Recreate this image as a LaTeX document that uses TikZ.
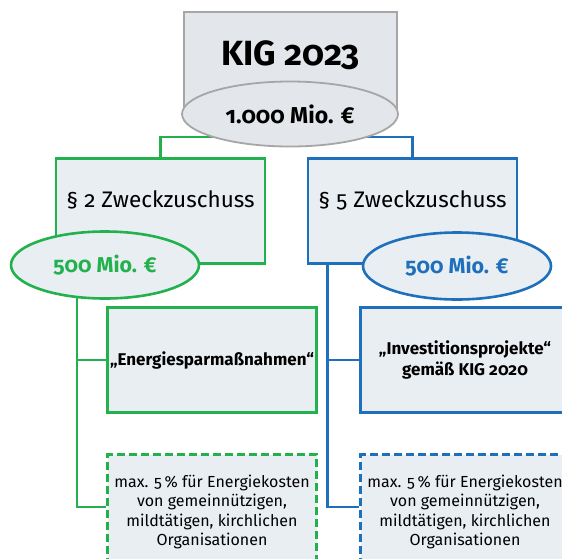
\documentclass[tikz,border=0pt]{standalone}
\usepackage{fontspec}
\setmainfont{Fira Sans}[Numbers=OldStyle]
\usetikzlibrary{shapes.geometric,backgrounds}
\definecolor{gruen}{RGB}{34,177,76}
\definecolor{blau}{RGB}{30,112,186}
\definecolor{hell}{RGB}{233,238,243}
\definecolor{grau}{RGB}{166,166,166}
\definecolor{grauhell}{RGB}{227,230,234}

\begin{document}
\begin{tikzpicture}[x=1pt,y=-1pt]
    \tikzstyle{lien}=[line width=2.8pt]
    \tikzstyle{titel}=[font=\fontsize{22.5}{26}\selectfont,text height=15pt,text depth=22pt]
    \tikzstyle{klein}=[font=\fontsize{16}{19.5}\selectfont]
\tikzset{kasten/.style={draw=#1,line width=2.8pt,fill=hell,minimum width=209pt,
minimum height=105pt,inner sep=0pt,align=center},
kasten/.default={gruen},
oval/.style={ellipse,draw=#1,line width=2.6pt,fill=hell,inner sep=0pt,text=#1,
minimum width=188pt,minimum height=67pt,font=\bfseries\fontsize{21.5}{24}\selectfont}}
\useasboundingbox (0,0) rectangle (562,558);
\clip (0,0) rectangle (562,558);

\node[draw=grau,line width=1.8pt,fill=grauhell,minimum width=213pt,minimum height=102pt,
text height=23pt,text depth=19pt,font=\bfseries\fontsize{35}{40}\selectfont] (kig) at (290.5,63){KIG 2023};
\node[ellipse,draw=grau,line width=1.8pt,fill=grauhell,minimum width=216pt,minimum height=65pt,
inner sep=0pt,font=\bfseries\fontsize{23}{26}\selectfont] (mio) at (290,114){1.000 Mio. €};

\node[kasten,titel] (zz2) at (160.5,211){§ 2 Zweckzuschuss};
\node[kasten=blau,titel] (zz5) at (412.5,211){§ 5 Zweckzuschuss};

\node[oval=gruen] (geld2) at (105,265){500 Mio. €};
\node[oval=blau] (geld5) at (457,266){500 Mio. €};

\node[kasten,font=\bfseries\fontsize{17}{20.5}\selectfont] (spar) at (212,360){„Energiesparmaßnahmen“};
\node[kasten=blau,font=\bfseries\fontsize{17}{20.5}\selectfont] (invest) at (465,360){„Investitionsprojekte“\\gemäß KIG 2020};

\node[kasten,dashed,dash pattern=on 8pt off 4pt,minimum height=115pt,klein] (max2) at (212,512)
{max. 5\,\% für Energiekosten\\von gemeinnützigen,\\mildtätigen, kirchlichen\\Organisationen};
\node[kasten=blau,dashed,dash pattern=on 8pt off 4pt,minimum height=115pt,klein] (max5) at (465,512)
{max. 5\,\% für Energiekosten\\von gemeinnützigen,\\mildtätigen, kirchlichen\\Organisationen};

\begin{pgfonlayer}{background}
\draw[lien,gruen] ([yshift=-23pt]mio.center) -| (zz2.north);
\draw[lien,blau] ([yshift=-23pt]mio.center) -| (zz5.north);
\draw[lien,gruen] ([xshift=-28pt]geld2.center) |- (spar.west);
\draw[lien,gruen] ([xshift=-28pt]geld2.center) |- ([yshift=5pt]max2.west);
\draw[lien,blau] ([xshift=21pt]zz5.south west) |- (invest.west);
\draw[lien,blau] ([xshift=21pt]zz5.south west) |- ([yshift=5pt]max5.west);
\end{pgfonlayer}

  \end{tikzpicture}
\end{document}
